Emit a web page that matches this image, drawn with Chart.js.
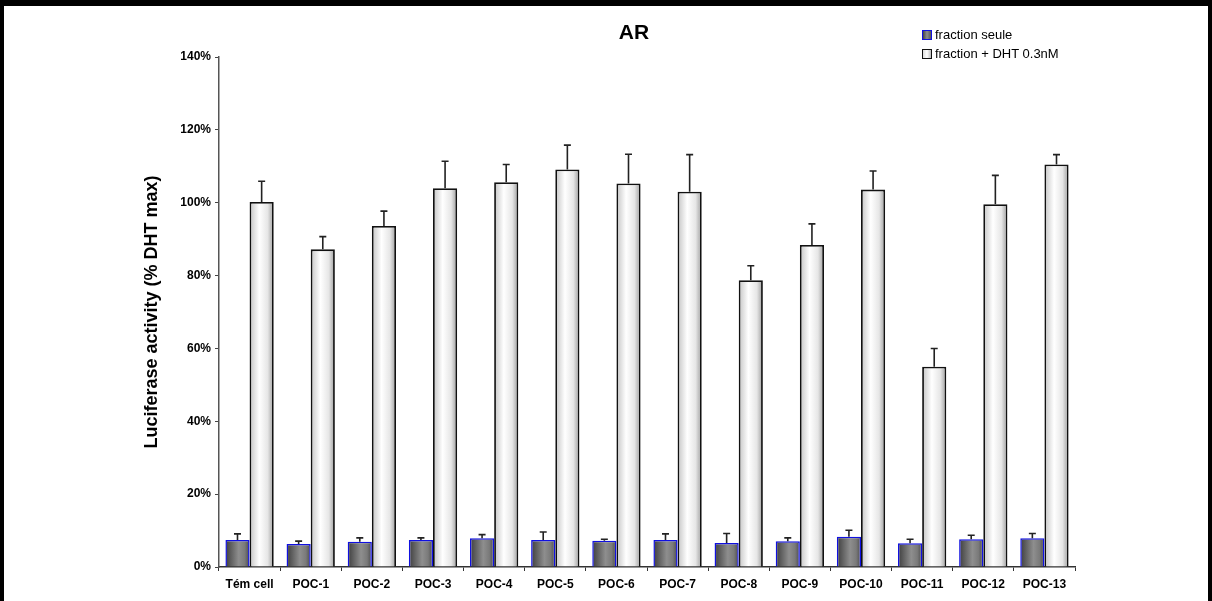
<!DOCTYPE html>
<html>
<head>
<meta charset="utf-8">
<script src="https://cdn.jsdelivr.net/npm/chart.js@4/dist/chart.umd.min.js"></script>
<style>
    html, body { margin: 0; padding: 0; background: #fff; }
    #wrap { position: relative; width: 1212px; height: 601px; overflow: hidden; }
    #chart { position: absolute; left: 0; top: 0; }
    #frame {
        position: absolute; left: 0; top: 0; width: 1212px; height: 601px;
        box-sizing: border-box; border-top: 6px solid #000;
        border-left: 4px solid #000; border-right: 4px solid #000;
        pointer-events: none;
    }
    #title {
        position: absolute; left: 584px; top: 21px; width: 100px;
        text-align: center; font: bold 21px Arial, "Liberation Sans", sans-serif;
        line-height: 22px; color: #000;
    }
    #legend {
        position: absolute; left: 922px; top: 25px;
        font: 13px Arial, "Liberation Sans", sans-serif; color: #000;
    }
    #legend .row { display: flex; align-items: center; height: 19px; }
    #legend .box { width: 8px; height: 8px; margin-right: 3px; box-sizing: content-box; }
</style>
</head>
<body>
<div id="wrap">
    <canvas id="chart" width="1212" height="601"></canvas>
    <div id="title">AR</div>
    <div id="legend"></div>
    <div id="frame"></div>
</div>
<script>
// categories and series (values in %)
const categories = ['Tém cell', 'POC-1', 'POC-2', 'POC-3', 'POC-4', 'POC-5', 'POC-6',
    'POC-7', 'POC-8', 'POC-9', 'POC-10', 'POC-11', 'POC-12', 'POC-13'];

const seriesNames = ['fraction seule', 'fraction + DHT 0.3nM'];

const fractionSeule = [7.4, 6.3, 6.9, 7.4, 7.9, 7.4, 7.2, 7.4, 6.6, 7.1, 8.3, 6.5, 7.6, 7.9];
const fractionSeuleErr = [1.7, 0.8, 1.1, 0.6, 1.0, 2.2, 0.4, 1.7, 2.6, 0.9, 1.8, 1.1, 1.1, 1.3];

const fractionDht = [100.2, 87.2, 93.6, 104.0, 105.6, 109.1, 105.3, 103.0, 78.7, 88.4, 103.6, 55.0, 99.6, 110.5];
const fractionDhtErr = [5.7, 3.5, 4.1, 7.4, 4.9, 6.7, 8.0, 10.2, 4.0, 5.8, 5.1, 5.0, 7.9, 2.7];

const yTicks = [0, 20, 40, 60, 80, 100, 120, 140];

const CAT_PCT = 0.79;

// horizontal "cylinder" shading for each bar, placed from the x scale
function barGradient(stops) {
    return function (context) {
        const chart = context.chart;
        const xs = chart.scales.x;
        const fallback = stops[1][1];
        if (!xs || !chart.chartArea || context.dataIndex === undefined) return fallback;
        const catW = (xs.right - xs.left) / categories.length;
        const barW = catW * CAT_PCT / 2;
        const center = xs.getPixelForValue(context.dataIndex);
        const left = context.datasetIndex === 0 ? center - barW : center;
        if (!isFinite(left) || !isFinite(barW) || barW <= 0) return fallback;
        const g = chart.ctx.createLinearGradient(left, 0, left + barW, 0);
        stops.forEach(s => g.addColorStop(s[0], s[1]));
        return g;
    };
}

const grayStops = [[0, '#3e3e3e'], [0.55, '#8e8e8e'], [0.8, '#7a7a7a'], [1, '#4a4a4a']];
const whiteStops = [[0, '#c4c4c4'], [0.4, '#ffffff'], [0.75, '#e6e6e6'], [1, '#9c9c9c']];

// upward error bars with a small cap
const errorBars = {
    id: 'errorBars',
    afterDatasetsDraw(chart) {
        const ctx = chart.ctx;
        const ys = chart.scales.y;
        chart.data.datasets.forEach((ds, i) => {
            const meta = chart.getDatasetMeta(i);
            meta.data.forEach((bar, j) => {
                const top = ys.getPixelForValue(ds.data[j] + ds.errors[j]);
                ctx.save();
                ctx.strokeStyle = '#222';
                ctx.lineWidth = 1.6;
                ctx.beginPath();
                ctx.moveTo(bar.x, bar.y);
                ctx.lineTo(bar.x, top);
                ctx.moveTo(bar.x - 3.5, top);
                ctx.lineTo(bar.x + 3.5, top);
                ctx.stroke();
                ctx.restore();
            });
        });
    }
};

const datasets = [
    {
        label: seriesNames[0],
        data: fractionSeule,
        errors: fractionSeuleErr,
        backgroundColor: barGradient(grayStops),
        borderColor: '#1010e0',
        borderWidth: 1.5
    },
    {
        label: seriesNames[1],
        data: fractionDht,
        errors: fractionDhtErr,
        backgroundColor: barGradient(whiteStops),
        borderColor: '#111',
        borderWidth: 1.8
    }
];

const ctx = document.getElementById('chart').getContext('2d');
const chart = new Chart(ctx, {
    type: 'bar',
    data: { labels: categories, datasets },
    plugins: [errorBars],
    options: {
        responsive: false,
        animation: false,
        datasets: { bar: { barPercentage: 1, categoryPercentage: CAT_PCT } },
        layout: { padding: { top: 57, left: 0, right: 137, bottom: 0 } },
        plugins: {
            legend: { display: false },
            title: { display: false },
            tooltip: { enabled: false }
        },
        scales: {
            x: {
                grid: { display: true, drawOnChartArea: false, drawTicks: true, tickLength: 4, color: '#333', offset: true },
                border: { display: true, color: '#333', width: 1.5 },
                ticks: { padding: 6, color: '#000', font: { family: 'Arial, "Liberation Sans"', size: 12, weight: 'bold' }, maxRotation: 0, autoSkip: false },
                afterFit: s => { s.height = 34; }
            },
            y: {
                min: 0,
                max: 140,
                afterBuildTicks: s => { s.ticks = yTicks.map(v => ({ value: v })); },
                grid: { display: true, drawOnChartArea: false, drawTicks: true, tickLength: 4, color: '#444' },
                border: { display: true, color: '#555', width: 1.5 },
                ticks: {
                    padding: 4,
                    color: '#000',
                    font: { family: 'Arial, "Liberation Sans"', size: 12, weight: 'bold' },
                    callback: v => v + '%'
                },
                title: {
                    display: true,
                    text: 'Luciferase activity (% DHT max)',
                    color: '#000',
                    font: { family: 'Arial, "Liberation Sans"', size: 18, weight: 'bold' },
                    padding: { top: 141, bottom: 0 }
                },
                afterFit: s => { s.width = 219; }
            }
        }
    }
});
// second pass so the gradients see the finished layout
chart.update('none');

// legend built from the dataset labels
const legendEl = document.getElementById('legend');
const legendBoxes = [
    'background: linear-gradient(to right, #444, #8e8e8e, #555); border: 1px solid #1010e0;',
    'background: linear-gradient(to right, #ddd, #fff, #bbb); border: 1px solid #111;'
];
seriesNames.forEach((name, i) => {
    const row = document.createElement('div');
    row.className = 'row';
    const box = document.createElement('span');
    box.className = 'box';
    box.style.cssText = legendBoxes[i];
    const txt = document.createElement('span');
    txt.textContent = name;
    row.appendChild(box);
    row.appendChild(txt);
    legendEl.appendChild(row);
});
</script>
</body>
</html>
